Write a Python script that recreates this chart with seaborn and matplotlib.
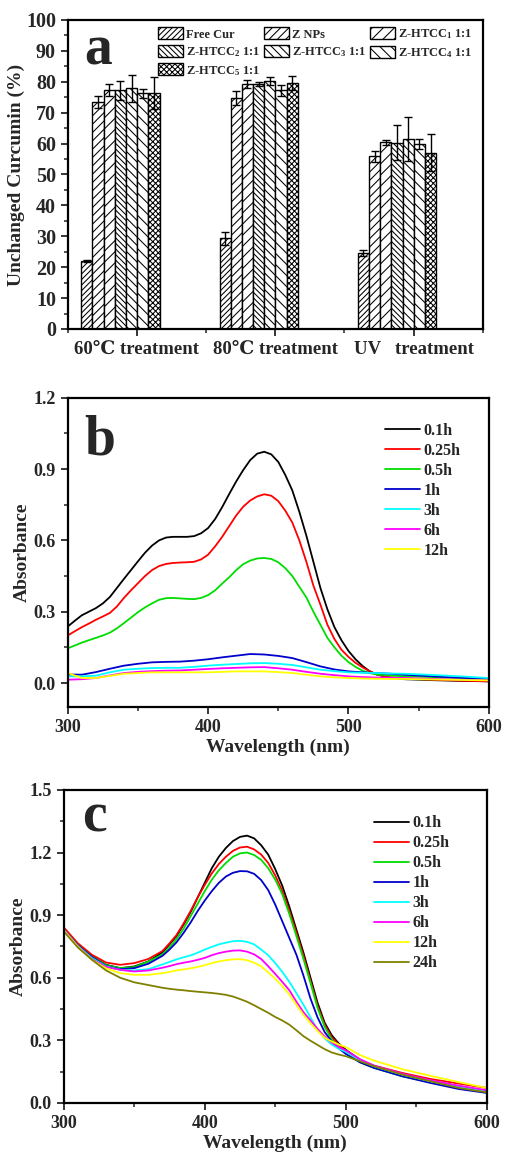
import numpy as np
import pandas as pd
import seaborn as sns
import matplotlib.pyplot as plt
from matplotlib.ticker import MultipleLocator, FixedLocator

# ---- panel a data ----
treatments = ["60℃ treatment", "80℃ treatment", "UV   treatment"]
samples = ["Free Cur", "Z NPs", "Z-HTCC$_1$ 1:1", "Z-HTCC$_2$ 1:1",
           "Z-HTCC$_3$ 1:1", "Z-HTCC$_4$ 1:1", "Z-HTCC$_5$ 1:1"]
vals_60 = [22.0, 73.5, 77.3, 77.2, 77.9, 76.3, 76.4]
vals_80 = [29.3, 74.7, 79.2, 79.3, 80.3, 77.2, 79.5]
vals_uv = [24.5, 55.9, 60.4, 60.3, 61.5, 59.8, 57.1]
err_60 = [0.2, 2.0, 2.0, 3.2, 4.3, 1.5, 5.1]
err_80 = [2.0, 2.3, 1.3, 0.7, 1.2, 1.8, 2.3]
err_uv = [1.0, 1.8, 0.8, 5.6, 7.0, 1.7, 6.1]
hatches = ["//////", "////", "///", "\\\\\\\\\\\\", "\\\\\\\\", "\\\\\\", "xxxxxx"]

# ---- panel b data (absorbance spectra) ----
wl_b_hi = list(range(300, 521, 5)) + [530, 540, 560, 580, 600]
b_01 = [0.238, 0.262, 0.285, 0.300, 0.315, 0.335, 0.362, 0.400, 0.438, 0.475,
        0.512, 0.548, 0.578, 0.600, 0.612, 0.615, 0.615, 0.615, 0.618, 0.630,
        0.652, 0.690, 0.740, 0.795, 0.848, 0.896, 0.938, 0.965, 0.973, 0.962,
        0.930, 0.875, 0.810, 0.720, 0.620, 0.510, 0.400, 0.310, 0.235, 0.180,
        0.135, 0.100, 0.072, 0.050, 0.036, 0.022, 0.016, 0.012, 0.009, 0.007]
b_025 = [0.200, 0.218, 0.235, 0.250, 0.266, 0.280, 0.295, 0.322, 0.358, 0.390,
         0.420, 0.450, 0.475, 0.492, 0.501, 0.505, 0.507, 0.508, 0.510, 0.520,
         0.540, 0.575, 0.615, 0.660, 0.705, 0.742, 0.768, 0.785, 0.794, 0.788,
         0.765, 0.725, 0.675, 0.600, 0.510, 0.410, 0.330, 0.245, 0.185, 0.140,
         0.110, 0.085, 0.066, 0.050, 0.036, 0.024, 0.020, 0.014, 0.010, 0.007]
b_05 = [0.146, 0.158, 0.170, 0.180, 0.190, 0.200, 0.212, 0.230, 0.252, 0.275,
        0.298, 0.318, 0.335, 0.350, 0.357, 0.358, 0.356, 0.354, 0.353, 0.358,
        0.370, 0.390, 0.418, 0.445, 0.475, 0.500, 0.515, 0.524, 0.526, 0.522,
        0.508, 0.483, 0.450, 0.405, 0.360, 0.300, 0.245, 0.190, 0.150, 0.115,
        0.088, 0.068, 0.052, 0.042, 0.036, 0.031, 0.029, 0.025, 0.021, 0.017]
wl_b_lo = [300, 310, 320, 330, 340, 350, 360, 370, 380, 390, 400, 410, 420, 430,
           440, 450, 460, 470, 480, 490, 500, 510, 520, 530, 540, 560, 580, 600]
b_1 = [0.036, 0.035, 0.046, 0.060, 0.073, 0.081, 0.087, 0.089, 0.090, 0.094,
       0.100, 0.108, 0.115, 0.122, 0.120, 0.114, 0.105, 0.088, 0.070, 0.057,
       0.049, 0.045, 0.042, 0.039, 0.035, 0.028, 0.022, 0.017]
b_3 = [0.028, 0.028, 0.031, 0.045, 0.056, 0.060, 0.063, 0.064, 0.064, 0.068,
       0.073, 0.077, 0.080, 0.083, 0.084, 0.081, 0.076, 0.066, 0.056, 0.050,
       0.045, 0.043, 0.042, 0.040, 0.039, 0.034, 0.028, 0.021]
b_6 = [0.014, 0.016, 0.021, 0.032, 0.042, 0.047, 0.050, 0.052, 0.053, 0.056,
       0.059, 0.062, 0.064, 0.066, 0.067, 0.062, 0.056, 0.047, 0.039, 0.033,
       0.028, 0.025, 0.023, 0.022, 0.021, 0.017, 0.014, 0.011]
b_12 = [0.042, 0.021, 0.021, 0.030, 0.039, 0.042, 0.045, 0.045, 0.045, 0.045,
        0.045, 0.047, 0.049, 0.049, 0.049, 0.046, 0.042, 0.035, 0.028, 0.024,
        0.021, 0.019, 0.018, 0.017, 0.017, 0.015, 0.013, 0.011]

# ---- panel c data ----
wl_c = [300, 310, 320, 330, 340, 350, 360] + list(range(370, 501, 5)) + \
       [510, 520, 540, 560, 580, 600]
c_01 = [0.838, 0.758, 0.702, 0.662, 0.646, 0.654, 0.678,
        0.722, 0.760, 0.800, 0.855, 0.915, 0.985, 1.055, 1.125, 1.180, 1.222,
        1.255, 1.275, 1.281, 1.268, 1.235, 1.190, 1.120, 1.040, 0.940, 0.830,
        0.720, 0.600, 0.480, 0.385, 0.325, 0.285, 0.255,
        0.207, 0.176, 0.136, 0.104, 0.080, 0.056]
c_025 = [0.841, 0.765, 0.710, 0.673, 0.662, 0.670, 0.690,
         0.728, 0.765, 0.805, 0.860, 0.920, 0.985, 1.045, 1.100, 1.145, 1.180,
         1.208, 1.224, 1.228, 1.215, 1.190, 1.150, 1.090, 1.015, 0.920, 0.815,
         0.705, 0.585, 0.465, 0.375, 0.315, 0.278, 0.250,
         0.205, 0.179, 0.144, 0.115, 0.093, 0.072]
c_05 = [0.830, 0.755, 0.699, 0.660, 0.646, 0.651, 0.678,
        0.712, 0.745, 0.785, 0.835, 0.895, 0.955, 1.015, 1.070, 1.115, 1.150,
        1.180, 1.196, 1.200, 1.188, 1.165, 1.125, 1.070, 1.000, 0.905, 0.800,
        0.690, 0.575, 0.455, 0.365, 0.305, 0.268, 0.240,
        0.195, 0.168, 0.128, 0.099, 0.072, 0.051]
c_1 = [0.830, 0.755, 0.699, 0.655, 0.641, 0.646, 0.667,
       0.705, 0.735, 0.770, 0.815, 0.865, 0.920, 0.970, 1.015, 1.055, 1.085,
       1.103, 1.111, 1.110, 1.098, 1.068, 1.020, 0.950, 0.870, 0.790, 0.710,
       0.610, 0.500, 0.410, 0.340, 0.295, 0.262, 0.235,
       0.195, 0.168, 0.128, 0.096, 0.067, 0.048]
c_3 = [0.830, 0.752, 0.694, 0.654, 0.638, 0.635, 0.641,
       0.664, 0.676, 0.688, 0.698, 0.707, 0.720, 0.735, 0.748, 0.760, 0.768,
       0.775, 0.777, 0.772, 0.760, 0.735, 0.708, 0.670, 0.628, 0.580, 0.526,
       0.470, 0.410, 0.350, 0.310, 0.280, 0.260, 0.245,
       0.205, 0.176, 0.136, 0.104, 0.077, 0.056]
c_6 = [0.830, 0.750, 0.689, 0.652, 0.638, 0.630, 0.635,
       0.648, 0.656, 0.665, 0.672, 0.678, 0.686, 0.695, 0.708, 0.718, 0.725,
       0.730, 0.731, 0.725, 0.712, 0.690, 0.655, 0.618, 0.580, 0.540, 0.485,
       0.435, 0.395, 0.355, 0.318, 0.290, 0.268, 0.252,
       0.210, 0.179, 0.140, 0.109, 0.083, 0.061]
c_12 = [0.827, 0.748, 0.686, 0.645, 0.622, 0.614, 0.614,
        0.622, 0.628, 0.635, 0.640, 0.645, 0.652, 0.660, 0.670, 0.678, 0.684,
        0.688, 0.689, 0.684, 0.672, 0.655, 0.625, 0.595, 0.560, 0.520, 0.470,
        0.422, 0.382, 0.345, 0.312, 0.295, 0.280, 0.268,
        0.230, 0.203, 0.162, 0.130, 0.100, 0.072]
c_24 = [0.822, 0.745, 0.686, 0.635, 0.600, 0.578, 0.565,
        0.552, 0.547, 0.543, 0.540, 0.536, 0.533, 0.530, 0.527, 0.523, 0.518,
        0.510, 0.498, 0.485, 0.468, 0.450, 0.432, 0.412, 0.395, 0.375, 0.348,
        0.320, 0.298, 0.278, 0.258, 0.242, 0.232, 0.224,
        0.200, 0.176, 0.136, 0.104, 0.072, 0.051]

times_b = ["0.1h", "0.25h", "0.5h", "1h", "3h", "6h", "12h"]
times_c = times_b + ["24h"]
line_colors = ["#000000", "#ff0000", "#00dd00", "#0000cc", "#00ffff",
               "#ff00ff", "#ffff00", "#808000"]

sns.set_style("ticks")
plt.rcParams["font.family"] = ["Liberation Serif", "DejaVu Serif"]
plt.rcParams["font.weight"] = "bold"
plt.rcParams["axes.labelweight"] = "bold"
plt.rcParams["mathtext.fontset"] = "custom"
plt.rcParams["mathtext.rm"] = "Liberation Serif:bold"
plt.rcParams["mathtext.it"] = "Liberation Serif:bold"
plt.rcParams["mathtext.bf"] = "Liberation Serif:bold"
plt.rcParams["hatch.linewidth"] = 0.75


def style_axes(ax, fs):
    for s in ax.spines.values():
        s.set_linewidth(1.6)
        s.set_color("black")
    ax.tick_params(which="major", direction="out", length=5, width=1.3,
                   labelsize=fs, top=False, right=False)
    ax.tick_params(which="minor", direction="out", length=3, width=1.1,
                   top=False, right=False)


fig = plt.figure(figsize=(5.06, 11.53), dpi=100)

# ---------------- panel a ----------------
ax1 = fig.add_axes([0.134, 0.7147, 0.820, 0.268])
rows = []
for t, vals in zip(treatments, [vals_60, vals_80, vals_uv]):
    for s, v in zip(samples, vals):
        rows.append({"treatment": t, "sample": s, "value": v})
df_a = pd.DataFrame(rows)
sns.barplot(data=df_a, x="treatment", y="value", hue="sample",
            hue_order=samples, order=treatments, palette=["white"] * 7,
            width=0.566, dodge=True, errorbar=None, edgecolor="black",
            linewidth=1.0, saturation=1, ax=ax1, legend=False)
bar_conts = list(ax1.containers)
errs = np.array([err_60, err_80, err_uv]).T
for j, cont in enumerate(bar_conts):
    xs, hs = [], []
    for bar in cont:
        bar.set_hatch(hatches[j])
        xs.append(bar.get_x() + bar.get_width() / 2)
        hs.append(bar.get_height())
    ax1.errorbar(xs, hs, yerr=errs[j], fmt="none", ecolor="black",
                 elinewidth=1.0, capsize=3, capthick=1.0)
ax1.set_xlim(-0.38, 2.62)
ax1.set_ylim(0, 100)
ax1.xaxis.set_major_locator(FixedLocator([0.12, 1.12, 2.12]))
ax1.set_xticklabels(treatments)
ax1.xaxis.set_minor_locator(FixedLocator([-0.38, 0.62, 1.62, 2.62]))
ax1.yaxis.set_major_locator(MultipleLocator(10))
ax1.yaxis.set_minor_locator(MultipleLocator(5))
ax1.set_xlabel("")
ax1.set_ylabel("Unchanged Curcumin (%)", fontsize=14, labelpad=1)
style_axes(ax1, 14.5)
ax1.tick_params(axis="x", labelsize=13.5)
# legend filled row by row (matplotlib fills by column)
leg_order = [0, 3, 6, 1, 4, 2, 5]
ax1.legend(handles=[bar_conts[i] for i in leg_order],
           labels=[samples[i] for i in leg_order], ncol=3, frameon=False,
           loc="upper left", bbox_to_anchor=(0.2, 1.0), fontsize=9,
           handlelength=2.0, handleheight=1.1, columnspacing=0.25,
           labelspacing=0.35, handletextpad=0.25, borderaxespad=0.2)
ax1.text(0.04, 0.855, "a", transform=ax1.transAxes, fontsize=40,
         fontweight="bold", va="baseline")


def spectra_df(pairs, names):
    parts = []
    for n, (wl, y) in zip(names, pairs):
        parts.append(pd.DataFrame({"Wavelength": wl, "Absorbance": y, "time": n}))
    return pd.concat(parts, ignore_index=True)


# ---------------- panel b ----------------
ax2 = fig.add_axes([0.134, 0.387, 0.832, 0.268])
df_b = spectra_df([(wl_b_hi, b_01), (wl_b_hi, b_025), (wl_b_hi, b_05),
                   (wl_b_lo, b_1), (wl_b_lo, b_3), (wl_b_lo, b_6),
                   (wl_b_lo, b_12)], times_b)
sns.lineplot(data=df_b, x="Wavelength", y="Absorbance", hue="time",
             hue_order=times_b, palette=line_colors[:7], estimator=None,
             linewidth=1.3, ax=ax2)
ax2.set_xlim(300, 600)
ax2.set_ylim(-0.1, 1.2)
ax2.xaxis.set_major_locator(MultipleLocator(100))
ax2.xaxis.set_minor_locator(MultipleLocator(50))
ax2.yaxis.set_major_locator(MultipleLocator(0.3))
ax2.yaxis.set_minor_locator(MultipleLocator(0.15))
ax2.set_xlabel("Wavelength (nm)", fontsize=14, labelpad=2)
ax2.set_ylabel("Absorbance", fontsize=14, labelpad=2)
style_axes(ax2, 13)
ax2.legend(frameon=False, loc="upper left", bbox_to_anchor=(0.72, 0.965),
           fontsize=11.5, handlelength=2.2, labelspacing=0.25,
           handletextpad=0.2)
ax2.text(0.04, 0.815, "b", transform=ax2.transAxes, fontsize=40,
         fontweight="bold", va="baseline")

# ---------------- panel c ----------------
ax3 = fig.add_axes([0.126, 0.0434, 0.836, 0.2715])
df_c = spectra_df([(wl_c, y) for y in [c_01, c_025, c_05, c_1, c_3, c_6,
                                       c_12, c_24]], times_c)
sns.lineplot(data=df_c, x="Wavelength", y="Absorbance", hue="time",
             hue_order=times_c, palette=line_colors, estimator=None,
             linewidth=1.3, ax=ax3)
ax3.set_xlim(300, 600)
ax3.set_ylim(0, 1.5)
ax3.xaxis.set_major_locator(MultipleLocator(100))
ax3.xaxis.set_minor_locator(MultipleLocator(50))
ax3.yaxis.set_major_locator(MultipleLocator(0.3))
ax3.yaxis.set_minor_locator(MultipleLocator(0.15))
ax3.set_xlabel("Wavelength (nm)", fontsize=14, labelpad=2)
ax3.set_ylabel("Absorbance", fontsize=14, labelpad=2)
style_axes(ax3, 13)
ax3.legend(frameon=False, loc="upper left", bbox_to_anchor=(0.70, 0.965),
           fontsize=11.5, handlelength=2.2, labelspacing=0.25,
           handletextpad=0.2)
ax3.text(0.043, 0.866, "c", transform=ax3.transAxes, fontsize=40,
         fontweight="bold", va="baseline")

fig.savefig("out.png", dpi=100)
